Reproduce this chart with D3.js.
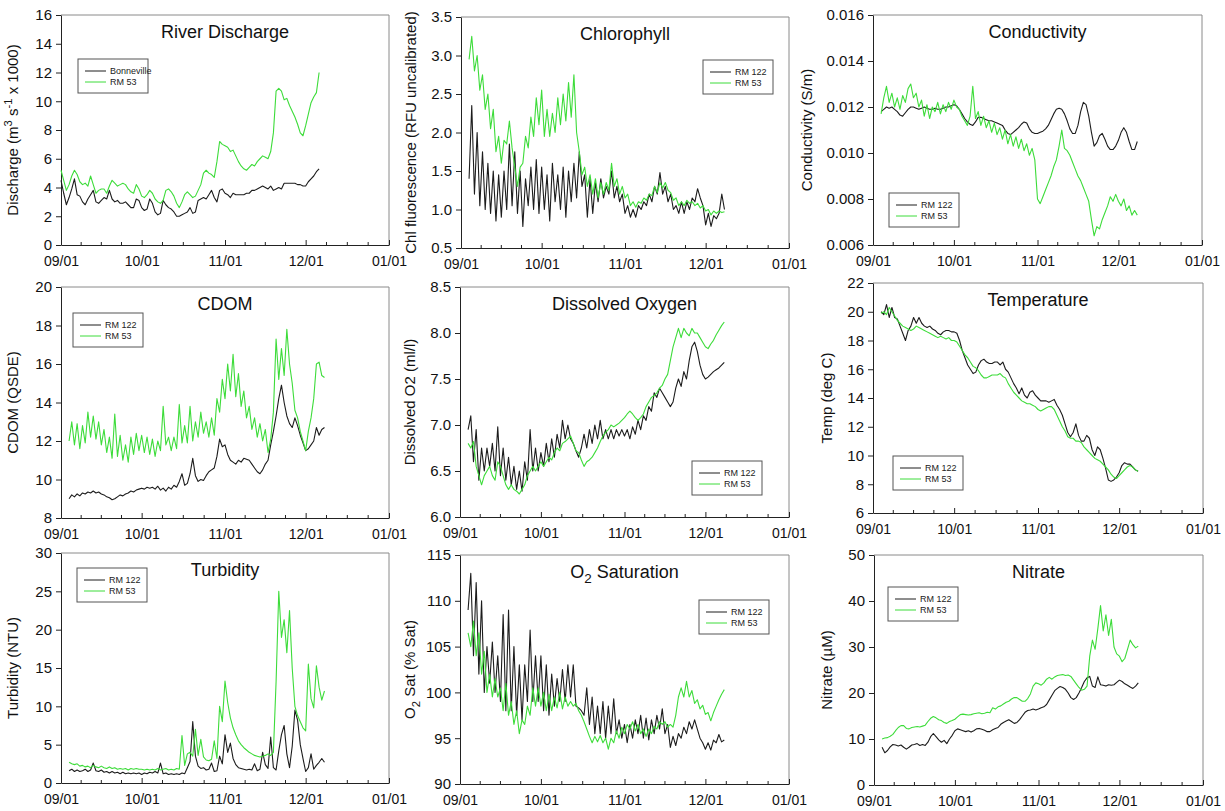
<!DOCTYPE html>
<html>
<head>
<meta charset="utf-8">
<style>
  body { margin: 0; background: #fff; }
  svg { font-family: Arial, "Liberation Sans", sans-serif; }
  .axis text { font-size: 15px; fill: #111; }
  .xaxis text { font-size: 14px; }
  .axis path, .axis line { stroke: #222; }
  .frame { stroke: #8a8a8a; fill: none; }
  .title { font-size: 18px; fill: #111; }
  .ylabel { font-size: 15px; fill: #111; }
  .legend text { font-size: 9px; fill: #222; }
  .legend rect { fill: #fff; stroke: #555; }
</style>
</head>
<body>
<svg width="1225" height="811"></svg>
<script src="https://d3js.org/d3.v7.min.js"></script>
<script>
// ---- data (daily values) ----
// River discharge, Sep 1 .. Dec 6
const dischargeStart = "2009-09-01"
const bonnevilleFlow = [
  4.5,3.6,2.8,3.3,3.9,4.6,3.5,3.4,3.0,2.8,3.2,3.5,3.8,3.0,2.9,3.1,3.3,3.2,3.8,3.2,3.0,3.1,2.9,2.9,3.0,2.8,2.6,2.6,3.2,3.1,
  2.6,2.4,2.5,3.2,2.9,2.3,2.1,2.2,3.1,2.8,2.6,2.5,2.3,2.0,2.0,2.1,2.2,2.3,2.6,2.2,2.3,3.1,3.2,3.3,3.2,3.5,3.8,3.3,3.0,3.8,3.9,
  3.6,3.5,3.3,3.6,3.5,3.5,3.5,3.5,3.6,3.6,3.8,3.8,3.9,4.0,4.1,4.0,3.9,4.1,3.8,3.9,4.0,3.9,4.3,4.3,4.3,4.3,4.3,4.2,4.2,4.1,
  4.1,4.4,4.6,4.8,5.1,5.3
]
const rm53Flow = [
  5.2,4.5,3.8,4.2,4.8,5.2,4.9,4.4,4.2,4.3,4.1,4.8,4.2,3.6,3.8,3.9,3.9,3.6,4.1,4.5,4.3,4.1,4.2,4.3,4.2,3.9,3.7,3.6,4.2,3.9,
  3.4,3.3,3.5,3.8,3.6,3.2,3.0,2.9,3.1,3.8,3.9,3.7,3.4,2.9,2.6,3.0,3.5,3.7,3.5,3.3,3.4,3.8,4.2,5.0,5.2,5.0,4.9,4.7,5.8,7.2,7.0,
  6.9,6.8,6.5,6.6,6.2,5.8,5.5,5.3,5.2,5.4,5.6,5.5,5.8,6.0,6.2,6.1,6.0,6.5,7.8,10.7,10.9,10.7,10.1,10.2,9.7,9.3,8.9,8.4,7.8,7.6,
  8.3,9.1,9.9,10.3,10.6,12.0
]

// moored sensors, Sep 4 .. Dec 8
const sensorStart = "2009-09-04"
const chlRM122 = [
  1.4,2.35,1.2,2.0,1.05,1.75,1.0,1.6,0.95,1.5,0.85,1.45,0.9,1.5,1.0,1.85,1.05,1.75,0.95,1.5,0.78,1.4,1.05,1.55,1.0,1.65,0.95,
  1.55,1.0,1.45,0.85,1.6,1.1,1.45,1.0,1.55,0.9,1.5,1.1,1.6,1.15,1.75,1.3,1.45,0.9,1.4,0.95,1.35,1.1,1.4,1.15,1.3,1.2,1.5,1.15,1.3,1.1,1.2,
  0.95,1.05,0.9,1.0,0.9,1.05,1.0,1.1,1.05,1.2,1.1,1.3,1.2,1.48,1.2,1.3,1.1,1.2,1.0,1.05,0.95,1.1,0.95,1.1,1.0,1.15,1.1,1.27,1.15,1.05,
  0.8,0.95,0.78,0.92,0.88,0.95,1.2,1.0
]
const chlRM53 = [
  2.95,3.25,2.8,3.0,2.55,2.75,2.3,2.5,2.05,2.3,1.75,1.95,1.6,1.9,1.85,2.15,1.8,1.55,1.3,1.55,1.6,1.95,1.8,2.2,1.95,2.45,2.1,
  2.55,1.95,2.3,1.95,2.25,2.0,2.45,2.1,2.5,2.15,2.65,2.2,2.75,2.0,1.75,1.45,1.55,1.3,1.45,1.2,1.4,1.15,1.35,1.2,1.35,1.25,1.6,1.3,1.4,1.2,1.3,
  1.15,1.2,1.05,1.1,1.03,1.1,1.08,1.15,1.12,1.2,1.18,1.3,1.22,1.35,1.28,1.35,1.25,1.22,1.12,1.15,1.05,1.1,1.05,1.12,1.08,1.1,1.05,1.08,1.02,1.05,
  0.98,1.0,0.93,0.98,0.95,0.98,0.96,0.97
]
const condRM122 = [
  0.0118,0.0119,0.0120,0.01195,0.0120,0.0119,0.0118,0.01165,0.0116,0.01175,0.0119,0.0120,0.0120,0.01195,0.0119,0.01195,0.0120,0.01195,0.0119,0.0119,0.01195,0.0119,0.0119,0.01195,0.0120,0.0120,0.01205,
  0.0121,0.01205,0.0119,0.0117,0.0115,0.01135,0.01125,0.0112,0.01135,0.01155,0.01155,0.0115,0.01145,0.0114,0.0114,0.01135,0.0113,0.01125,0.0112,0.0110,0.01085,0.0108,0.0109,0.0110,0.0111,0.01125,0.01135,0.0113,0.01105,0.0109,0.01085,
  0.01085,0.0109,0.01095,0.01105,0.0112,0.01145,0.0117,0.0119,0.01195,0.0119,0.0117,0.0114,0.01105,0.01085,0.01085,0.0112,0.0118,0.0122,0.0121,0.0116,0.0109,0.0103,0.01045,0.01075,0.01085,0.0106,0.0103,0.01015,0.01015,0.0103,
  0.01055,0.0109,0.0111,0.0109,0.0105,0.01015,0.01015,0.0105
]
const condRM53 = [
  0.0117,0.0124,0.0129,0.0122,0.0126,0.0120,0.0124,0.0119,0.0125,0.0122,0.0128,0.0130,0.0124,0.0126,0.0120,0.0123,0.0116,0.0121,0.0115,0.0120,0.0118,0.0122,0.0117,0.0121,0.0118,0.0122,0.0119,
  0.0123,0.0120,0.0119,0.0116,0.0114,0.0112,0.0116,0.0129,0.0115,0.0118,0.0112,0.0116,0.0111,0.0114,0.0109,0.0113,0.0108,0.0111,0.0106,0.0110,0.0104,0.0108,0.0103,0.0107,0.0102,0.0106,0.0101,0.0104,0.0099,0.0102,0.0097,
  0.0080,0.0078,0.0081,0.0084,0.0087,0.0090,0.0094,0.0097,0.0103,0.0110,0.0102,0.0101,0.0099,0.0096,0.0093,0.0090,0.0088,0.0085,0.0082,0.0079,0.0071,0.0064,0.0068,0.0067,0.0071,0.0074,0.0077,0.0081,0.0079,0.0082,
  0.0079,0.0077,0.0080,0.0075,0.0077,0.0073,0.0075,0.0073
]
const cdomRM122 = [
  9.0,9.2,9.1,9.25,9.15,9.3,9.25,9.35,9.3,9.4,9.3,9.35,9.25,9.2,9.1,9.05,8.95,9.0,9.1,9.2,9.15,9.25,9.3,9.4,9.35,9.45,9.5,
  9.55,9.5,9.6,9.55,9.6,9.5,9.65,9.45,9.55,9.4,9.6,9.5,9.7,9.6,9.9,10.3,9.7,9.8,10.3,11.1,10.2,9.9,10.0,9.95,10.2,10.4,10.5,10.6,11.2,12.1,11.7,
  11.8,11.3,11.0,10.9,10.8,11.0,10.9,11.1,11.05,11.0,10.8,10.6,10.4,10.3,10.5,10.8,11.0,11.8,12.5,13.3,14.2,14.9,14.0,13.3,12.9,12.7,13.2,12.8,12.3,11.9,
  11.5,11.6,11.8,12.0,12.7,12.3,12.6,12.7
]
const cdomRM53 = [
  12.0,13.0,11.8,12.9,11.6,12.8,11.9,13.5,12.2,13.3,12.1,13.0,11.8,12.6,11.4,12.2,11.1,13.4,11.2,12.3,11.0,11.8,10.9,12.2,11.3,12.4,11.5,
  12.3,11.4,12.2,11.3,12.1,11.2,12.0,11.5,13.8,11.8,12.2,11.5,12.2,11.6,13.9,11.9,12.8,11.9,13.8,12.0,13.0,12.2,13.5,12.4,13.0,12.2,13.2,12.3,14.2,13.5,15.2,
  14.2,16.0,14.6,16.5,14.3,15.5,13.8,14.6,13.2,13.8,12.6,13.2,12.2,12.9,12.0,12.6,11.4,12.1,13.5,17.3,15.2,16.8,15.4,17.8,16.0,15.0,13.6,13.2,12.5,12.0,
  11.5,12.5,13.2,14.2,16.0,16.1,15.4,15.3
]
const doRM122 = [
  6.95,7.1,6.6,6.95,6.4,6.75,6.5,6.75,6.55,6.8,6.5,6.98,6.45,6.75,6.4,6.65,6.35,6.55,6.3,6.5,6.28,6.6,6.4,6.95,6.5,6.75,6.5,
  6.7,6.55,6.8,6.6,6.85,6.65,6.9,6.75,7.05,6.85,7.0,6.85,6.8,6.72,6.65,6.75,6.9,6.75,6.95,6.8,7.0,6.85,7.05,6.85,6.95,6.85,6.95,6.85,6.95,6.88,6.95,
  6.88,6.95,6.85,6.98,6.9,7.05,6.95,7.1,7.05,7.2,7.15,7.35,7.3,7.4,7.35,7.3,7.25,7.2,7.25,7.4,7.5,7.42,7.58,7.5,7.7,7.85,7.9,7.8,7.65,7.55,
  7.5,7.52,7.55,7.58,7.6,7.62,7.65,7.68
]
const doRM53 = [
  6.8,6.75,6.82,6.55,6.45,6.35,6.45,6.5,6.55,6.45,6.4,6.6,6.55,6.45,6.35,6.3,6.35,6.3,6.28,6.25,6.3,6.35,6.45,6.5,6.55,6.5,6.55,
  6.6,6.55,6.6,6.65,6.62,6.7,6.75,6.72,6.8,6.82,6.85,6.88,6.8,6.72,6.7,6.62,6.55,6.6,6.62,6.65,6.7,6.75,6.82,6.88,6.92,6.95,7.0,6.98,7.0,7.02,7.05,
  7.08,7.12,7.15,7.12,7.08,7.05,7.08,7.12,7.2,7.25,7.3,7.32,7.35,7.4,7.43,7.5,7.55,7.7,7.85,7.95,8.05,7.95,8.05,8.0,7.97,8.05,8.0,8.0,7.95,7.9,
  7.85,7.83,7.88,7.92,7.98,8.03,8.08,8.12
]
const tempRM122 = [
  20.0,19.8,20.5,19.6,20.3,19.6,19.5,19.0,18.5,18.0,18.7,19.0,19.6,19.2,19.6,19.2,19.0,18.9,19.0,18.8,18.7,18.5,18.4,18.6,18.7,18.7,18.6,
  18.6,18.5,18.0,17.3,16.8,16.3,16.0,15.7,15.8,16.3,16.6,16.7,16.5,16.4,16.4,16.5,16.5,16.3,16.5,16.0,15.8,15.4,15.0,14.7,14.3,14.7,14.2,14.0,14.4,14.5,14.2,
  14.0,13.8,13.8,13.8,13.7,13.8,13.9,13.5,13.2,12.8,12.2,11.6,11.3,11.6,12.2,11.4,11.0,11.0,11.4,11.2,10.4,10.0,10.6,10.4,9.8,9.1,8.3,8.2,8.3,8.5,
  8.8,9.3,9.5,9.4,9.4,9.2,9.0,8.9
]
const tempRM53 = [
  19.9,20.0,19.8,20.3,20.0,19.7,19.4,19.2,19.0,18.9,18.8,18.7,18.8,19.0,18.9,18.8,18.7,18.6,18.5,18.4,18.3,18.2,18.3,18.2,18.1,18.2,18.0,
  18.0,17.9,17.6,17.3,17.0,16.8,16.5,16.2,16.1,15.9,15.6,15.4,15.4,15.5,15.6,15.6,15.6,15.7,15.5,15.4,15.0,14.7,14.4,14.2,14.0,13.8,13.7,13.6,13.6,13.5,13.4,
  13.2,13.1,13.2,13.3,13.4,13.4,13.2,12.8,12.4,12.0,11.7,11.3,11.2,11.2,11.0,11.0,10.9,10.6,10.4,10.2,10.0,9.8,9.7,9.6,9.4,9.2,9.0,8.7,8.5,8.4,
  8.6,8.8,9.0,9.2,9.3,9.2,9.0,8.9
]
const turbRM122 = [
  1.6,1.8,1.5,1.7,1.5,1.6,1.8,1.5,1.7,2.6,1.6,1.5,1.7,1.4,1.5,1.3,1.5,1.3,1.4,1.2,1.4,1.2,1.3,1.2,1.3,1.2,1.3,
  1.1,1.3,1.2,1.4,1.3,1.5,1.3,2.6,1.2,1.3,1.1,1.2,1.1,1.2,1.1,1.3,1.2,2.0,2.8,8.0,3.5,2.2,1.9,2.0,1.7,1.8,2.6,1.5,1.6,3.5,2.5,
  6.3,4.0,5.2,3.2,2.4,2.0,1.9,1.8,1.7,1.8,1.7,2.5,1.6,1.8,4.0,2.4,1.9,6.0,2.0,1.7,4.2,6.3,7.5,3.8,2.0,4.8,9.5,8.2,5.0,3.2,
  1.5,2.0,3.8,1.8,2.3,2.7,3.2,2.7
]
const turbRM53 = [
  2.7,2.5,2.4,2.5,2.2,2.3,2.1,2.2,2.0,2.3,2.1,2.0,2.2,2.0,1.9,2.1,1.9,2.0,1.8,1.9,1.8,1.9,1.7,1.9,1.8,1.9,1.8,
  1.8,1.7,1.8,1.7,1.8,1.7,1.9,1.7,1.8,1.9,1.7,1.8,1.7,1.9,1.8,6.2,2.3,3.8,4.0,3.5,7.0,3.6,5.7,3.4,3.0,2.9,3.1,5.5,3.2,10.0,8.0,
  13.3,10.5,8.5,7.2,6.3,5.5,5.0,4.6,4.3,4.0,3.8,3.6,3.5,3.4,3.5,3.6,3.8,3.6,4.0,13.2,25.0,19.0,21.3,17.0,22.5,15.0,10.0,8.8,8.0,7.2,
  6.8,15.5,11.0,9.8,15.3,12.5,10.8,12.0
]
const satRM122 = [
  109,113,104,112,102,110,100,105,101,105.5,100,104,99,108.5,98,109,98,105,97.5,103,97,103,99,106.8,99,104,99,
  104,98,103,97.5,102,98.5,101.5,99,102.5,99,103,99.5,103,98.5,98.3,98,97.5,100.5,96.5,99.5,95.5,98.5,95.5,99,95,98.5,95.5,99.3,95.5,97,95,
  96.5,94.5,96.5,95,97,95.5,97.5,95,97.2,94.8,97,95.5,97.5,96,98.2,95.5,96.5,94,95.2,94.2,95.5,95.0,96.2,95.5,96.8,96,97,96,95,94.5,
  93.8,94.5,93.7,94.8,94.5,95.4,94.6,94.8
]
const satRM53 = [
  106.5,105,107.8,104,106.5,102,104.5,100,102,99.5,101.5,99.5,100.5,98,101,97.5,99,96.5,98,95.5,97,96.5,98.5,97.5,100.5,98.5,100.5,
  98.5,100,98,99.8,98,99.5,98.3,100,98.2,99.5,98.5,99,98.5,98.8,98,97.5,96.8,96,95.2,94.5,95.2,94.6,95.3,94.5,95,93.8,95,94.5,95.8,95,96.2,
  95.5,96.5,96,96.8,95.8,96.5,95.5,96,95.2,96,95.5,96.3,96,96.8,96.5,96.8,96.2,96.5,96.2,97.5,99.5,100.5,99.5,101.2,99.5,100.2,98.8,99.2,98.2,98.6,
  97.6,97.8,96.9,97.8,98.5,99.2,99.8,100.3
]
const no3RM122 = [
  8.2,7.0,7.5,8.3,8.8,8.7,8.5,8.7,8.2,7.8,8.2,8.7,8.8,9.0,8.6,8.8,8.6,9.3,10.5,11.2,10.5,9.8,9.3,9.7,9.0,10.0,10.8,
  11.8,12.2,12.0,11.8,11.6,11.8,11.5,11.8,12.2,12.3,12.1,11.9,11.6,11.6,12.0,12.3,12.5,13.2,13.6,13.9,14.2,13.8,13.4,13.6,14.2,15.0,15.8,16.2,16.3,16.5,16.3,
  16.5,16.8,17.0,17.5,18.5,19.5,20.5,21.0,21.4,21.2,20.8,20.0,19.0,18.6,19.0,20.0,21.2,22.5,23.3,23.6,21.5,21.2,23.5,21.8,21.7,21.5,21.8,21.7,21.8,22.3,
  22.8,22.5,22.0,21.7,21.3,21.0,21.5,22.2
]
const no3RM53 = [
  10.0,10.2,10.3,10.6,11.0,11.8,12.5,12.9,12.9,12.3,12.2,12.5,12.6,12.7,12.6,12.8,13.0,13.8,14.5,14.9,14.6,14.2,14.0,13.6,13.4,13.8,14.0,
  14.3,14.8,15.3,15.4,15.3,15.2,15.3,15.5,15.6,15.7,15.5,15.6,15.8,15.7,16.8,16.5,17.0,17.2,17.6,18.0,18.2,18.7,19.0,19.0,18.6,18.2,18.2,18.8,19.8,21.5,22.2,
  22.0,21.7,22.2,23.0,23.4,23.0,23.5,23.8,23.9,24.0,23.8,23.9,23.6,22.8,22.0,21.2,20.6,20.8,21.5,28.0,31.5,29.5,34.0,39.0,33.5,37.0,32.5,36.0,30.0,28.5,
  28.0,26.8,27.5,29.5,31.5,30.5,29.8,30.2
]

const xDomain = ["2009-09-01", "2010-01-01"]
const stationNames = ["RM 122", "RM 53"]

// ---- panel definitions ----
const black = "#1c1c1c"
const green = "#3ddc3a"

const panels = [
  { title: [["River Discharge"]], ylab: [["Discharge (m"], ["3", "sup"], [" s"], ["-1", "sup"], [" x 1000)"]],
    dom: [0, 16], step: 2, fmt: "d",
    series: [["Bonneville", dischargeStart, bonnevilleFlow, black], ["RM 53", dischargeStart, rm53Flow, green]],
    box: { x: 61, y: 15, w: 328, h: 230 }, labX: 18, leg: [78, 59] },
  { title: [["Chlorophyll"]], ylab: [["Chl fluorescence (RFU uncalibrated)"]],
    dom: [0.5, 3.5], step: 0.5, fmt: ".1f",
    series: [[stationNames[0], sensorStart, chlRM122, black], [stationNames[1], sensorStart, chlRM53, green]],
    box: { x: 461, y: 17, w: 328, h: 231 }, labX: 416, leg: [703, 60] },
  { title: [["Conductivity"]], ylab: [["Conductivity (S/m)"]],
    dom: [0.006, 0.016], step: 0.002, fmt: ".3f",
    series: [[stationNames[0], sensorStart, condRM122, black], [stationNames[1], sensorStart, condRM53, green]],
    box: { x: 873, y: 15, w: 329, h: 230 }, labX: 812, leg: [889, 193] },
  { title: [["CDOM"]], ylab: [["CDOM (QSDE)"]],
    dom: [8, 20], step: 2, fmt: "d",
    series: [[stationNames[0], sensorStart, cdomRM122, black], [stationNames[1], sensorStart, cdomRM53, green]],
    box: { x: 61, y: 287, w: 328, h: 231 }, labX: 18, leg: [73, 313] },
  { title: [["Dissolved Oxygen"]], ylab: [["Dissolved O2 (ml/l)"]],
    dom: [6, 8.5], step: 0.5, fmt: ".1f",
    series: [[stationNames[0], sensorStart, doRM122, black], [stationNames[1], sensorStart, doRM53, green]],
    box: { x: 460, y: 287, w: 329, h: 230 }, labX: 415, leg: [692, 461] },
  { title: [["Temperature"]], ylab: [["Temp (deg C)"]],
    dom: [6, 22], step: 2, fmt: "d",
    series: [[stationNames[0], sensorStart, tempRM122, black], [stationNames[1], sensorStart, tempRM53, green]],
    box: { x: 873, y: 283, w: 330, h: 230 }, labX: 832, leg: [893, 456] },
  { title: [["Turbidity"]], ylab: [["Turbidity (NTU)"]],
    dom: [0, 30], step: 5, fmt: "d",
    series: [[stationNames[0], sensorStart, turbRM122, black], [stationNames[1], sensorStart, turbRM53, green]],
    box: { x: 61, y: 553, w: 328, h: 230 }, labX: 18, leg: [77, 568] },
  { title: [["O"], ["2", "sub"], [" Saturation"]], ylab: [["O"], ["2", "sub"], [" Sat (% Sat)"]],
    dom: [90, 115], step: 5, fmt: "d",
    series: [[stationNames[0], sensorStart, satRM122, black], [stationNames[1], sensorStart, satRM53, green]],
    box: { x: 460, y: 555, w: 329, h: 229 }, labX: 415, leg: [699, 600] },
  { title: [["Nitrate"]], ylab: [["Nitrate (\u00b5M)"]],
    dom: [0, 50], step: 10, fmt: "d",
    series: [[stationNames[0], sensorStart, no3RM122, black], [stationNames[1], sensorStart, no3RM53, green]],
    box: { x: 874, y: 555, w: 329, h: 230 }, labX: 832, leg: [888, 587] }
]

const parse = d3.timeParse("%Y-%m-%d")
const svg = d3.select("svg")

// writes text made of plain / superscript / subscript parts
function richText(sel, parts, size) {
  let shift = 0
  parts.forEach(([txt, kind]) => {
    let target = kind === "sup" ? -0.42 * size : kind === "sub" ? 0.3 * size : 0
    sel.append("tspan")
      .attr("dy", target - shift)
      .style("font-size", kind ? (0.75 * size) + "px" : null)
      .text(txt)
    shift = target
  })
}

panels.forEach(p => {
  let b = p.box
  let g = svg.append("g")

  let x = d3.scaleTime()
    .domain(xDomain.map(parse))
    .range([b.x, b.x + b.w])

  let y = d3.scaleLinear()
    .domain(p.dom)
    .range([b.y + b.h, b.y])

  // frame (top + right)
  g.append("path")
    .attr("class", "frame")
    .attr("d", `M${b.x},${b.y}H${b.x + b.w}V${b.y + b.h}`)

  // minor ticks: three per month
  let months = d3.timeMonth.range(x.domain()[0], x.domain()[1])
  let minors = []
  months.forEach(m => {
    let next = d3.timeMonth.offset(m, 1)
    for (let k = 1; k < 4; k++) minors.push(new Date(+m + (next - m) * k / 4))
  })
  g.selectAll(".minor")
    .data(minors)
    .join("line")
    .attr("x1", d => x(d)).attr("x2", d => x(d))
    .attr("y1", b.y + b.h).attr("y2", b.y + b.h - 3)
    .attr("stroke", "#222")

  let xAxis = d3.axisBottom(x)
    .tickValues(months.concat([x.domain()[1]]))
    .tickFormat(d3.timeFormat("%m/%d"))
    .tickSize(-5)
    .tickSizeOuter(0)
    .tickPadding(11)

  g.append("g")
    .attr("class", "axis xaxis")
    .attr("transform", `translate(0,${b.y + b.h})`)
    .call(xAxis)

  let yAxis = d3.axisLeft(y)
    .tickValues(d3.range(p.dom[0], p.dom[1] + p.step / 2, p.step))
    .tickFormat(d3.format(p.fmt))
    .tickSize(5)
    .tickSizeOuter(0)
    .tickPadding(4)

  g.append("g")
    .attr("class", "axis")
    .attr("transform", `translate(${b.x},0)`)
    .call(yAxis)

  // series
  let line = d3.line()
    .x(d => x(d.date))
    .y(d => y(d.value))

  p.series.forEach(([name, start, values, color]) => {
    let t0 = parse(start)
    let pts = values.map((v, i) => ({ date: d3.timeDay.offset(t0, i), value: v }))
    g.append("path")
      .datum(pts)
      .attr("fill", "none")
      .attr("stroke", color)
      .attr("stroke-width", 1.1)
      .attr("stroke-linejoin", "round")
      .attr("d", line)
  })

  // title
  let t = g.append("text")
    .attr("class", "title")
    .attr("x", b.x + b.w / 2)
    .attr("y", b.y + 23)
    .attr("text-anchor", "middle")
  richText(t, p.title, 18)

  // y label
  let yl = g.append("text")
    .attr("class", "ylabel")
    .attr("text-anchor", "middle")
    .attr("transform", `translate(${p.labX},${b.y + b.h / 2}) rotate(-90)`)
    .attr("dy", "0.35em")
  richText(yl, p.ylab, 15)

  // legend
  let lg = g.append("g")
    .attr("class", "legend")
    .attr("transform", `translate(${p.leg[0]},${p.leg[1]})`)
  lg.append("rect").attr("width", 70).attr("height", 34)
  p.series.forEach(([name, start, values, color], i) => {
    lg.append("line")
      .attr("x1", 7).attr("x2", 28)
      .attr("y1", 12 + i * 11).attr("y2", 12 + i * 11)
      .attr("stroke", color)
    lg.append("text")
      .attr("x", 32)
      .attr("y", 12 + i * 11)
      .attr("dy", "0.35em")
      .text(name)
  })
})
</script>
</body>
</html>
